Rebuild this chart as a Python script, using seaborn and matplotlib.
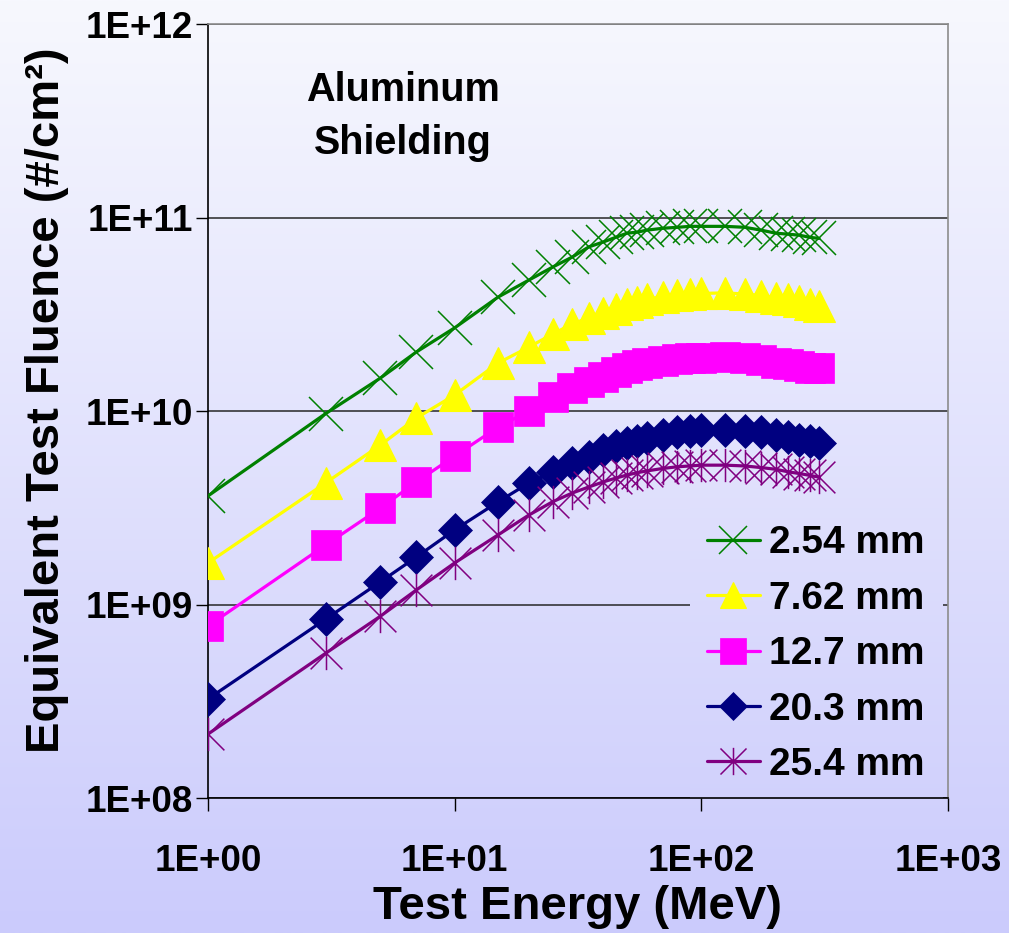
import numpy as np
import matplotlib
matplotlib.use("Agg")
import matplotlib.pyplot as plt
from matplotlib.path import Path
from matplotlib.ticker import LogLocator, FuncFormatter, NullLocator
import seaborn as sns

# Proton test energy (MeV)
energy_mev = [1, 3, 5, 7, 10, 15, 20, 25, 30, 35, 40, 45, 50, 55, 60,
              70, 80, 90, 100, 125, 150, 175, 200, 225, 250, 275, 300]

# Aluminum shield thickness for each curve
thickness_labels = ["2.54 mm", "7.62 mm", "12.7 mm", "20.3 mm", "25.4 mm"]

# Equivalent test fluence (#/cm^2) per shield thickness
fluence_2p54 = [3.64e9, 9.7e9, 1.48e10, 2.02e10, 2.69e10, 3.88e10, 4.75e10, 5.55e10,
                6.25e10, 7.05e10, 7.47e10, 7.9e10, 8.3e10, 8.4e10, 8.6e10, 8.8e10,
                8.9e10, 9.0e10, 9.0e10, 9.0e10, 8.9e10, 8.6e10, 8.3e10, 8.2e10,
                8.1e10, 7.9e10, 7.8e10]
fluence_7p62 = [1.64e9, 4.25e9, 6.67e9, 9.2e9, 1.21e10, 1.77e10, 2.14e10, 2.5e10,
                2.82e10, 3.03e10, 3.21e10, 3.37e10, 3.57e10, 3.66e10, 3.8e10, 3.88e10,
                3.98e10, 4.02e10, 4.05e10, 4.08e10, 4.02e10, 3.95e10, 3.84e10, 3.78e10,
                3.7e10, 3.57e10, 3.49e10]
fluence_12p7 = [7.74e8, 2.03e9, 3.15e9, 4.3e9, 5.85e9, 8.26e9, 1.0e10, 1.18e10,
                1.31e10, 1.41e10, 1.5e10, 1.59e10, 1.67e10, 1.72e10, 1.76e10, 1.81e10,
                1.85e10, 1.88e10, 1.88e10, 1.9e10, 1.87e10, 1.83e10, 1.78e10, 1.74e10,
                1.7e10, 1.67e10, 1.66e10]
fluence_20p3 = [3.25e8, 8.4e8, 1.31e9, 1.76e9, 2.43e9, 3.39e9, 4.25e9, 4.84e9,
                5.38e9, 5.78e9, 6.28e9, 6.6e9, 6.84e9, 7.0e9, 7.25e9, 7.5e9,
                7.75e9, 7.85e9, 8.0e9, 8.0e9, 7.9e9, 7.75e9, 7.55e9, 7.3e9,
                7.1e9, 7.0e9, 6.85e9]
fluence_25p4 = [2.14e8, 5.6e8, 8.7e8, 1.19e9, 1.64e9, 2.29e9, 2.9e9, 3.4e9,
                3.77e9, 4.05e9, 4.3e9, 4.5e9, 4.67e9, 4.8e9, 4.9e9, 5.05e9,
                5.15e9, 5.2e9, 5.25e9, 5.25e9, 5.2e9, 5.1e9, 5.0e9, 4.85e9,
                4.75e9, 4.65e9, 4.55e9]

series = [fluence_2p54, fluence_7p62, fluence_12p7, fluence_20p3, fluence_25p4]
colors = ["#008000", "#FFFF00", "#FF00FF", "#000080", "#800080"]

# Asterisk marker: an X crossed by a vertical stroke
asterisk = Path([(-1, -1), (1, 1), (-1, 1), (1, -1), (0, -1.05), (0, 1.05)],
                [Path.MOVETO, Path.LINETO, Path.MOVETO, Path.LINETO,
                 Path.MOVETO, Path.LINETO])
marker_styles = [
    dict(marker="x", markersize=24, markerfacecolor="none", markeredgewidth=1.1),
    dict(marker="^", markersize=23, markeredgewidth=0.8),
    dict(marker="s", markersize=22, markeredgewidth=0.5),
    dict(marker="D", markersize=17, markeredgewidth=0.5),
    dict(marker=asterisk, markersize=24, markerfacecolor="none", markeredgewidth=1.1),
]

sns.set_theme(style="white")
plt.rcParams["font.family"] = ["Liberation Sans", "DejaVu Sans"]
plt.rcParams["font.weight"] = "bold"
for key in ("text.color", "axes.labelcolor", "xtick.color", "ytick.color"):
    plt.rcParams[key] = "black"

fig = plt.figure(figsize=(10.09, 9.33), dpi=100)

# Lavender vertical gradient behind the whole figure
top_rgb = np.array([247, 248, 254]) / 255.0
bot_rgb = np.array([203, 203, 252]) / 255.0


def gradient_rows(f_top, f_bottom, n=512):
    """Background colours for figure heights from f_top down to f_bottom."""
    s = np.linspace(1.0 - f_top, 1.0 - f_bottom, n)[:, None]
    return (top_rgb + s * (bot_rgb - top_rgb))[:, None, :]


bg = fig.add_axes([0, 0, 1, 1], zorder=-10)
bg.imshow(gradient_rows(1.0, 0.0), aspect="auto", extent=[0, 1, 0, 1], origin="upper")
bg.axis("off")

ax = fig.add_axes([0.20614, 0.14469, 0.73340, 0.82958])
ax.set_facecolor("none")

for vals, lab, col, mst in zip(series, thickness_labels, colors, marker_styles):
    kw = dict(mst)
    kw.setdefault("markerfacecolor", col)
    sns.lineplot(x=energy_mev, y=vals, ax=ax, color=col, linewidth=2.3,
                 markeredgecolor=col, label=lab, errorbar=None, zorder=3, **kw)

ax.set_xscale("log")
ax.set_yscale("log")
ax.set_xlim(1, 1000)
ax.set_ylim(1e8, 1e12)
ax.set_autoscale_on(False)

fmt = FuncFormatter(lambda v, _: f"1E+{int(round(np.log10(v))):02d}")
for axis in (ax.xaxis, ax.yaxis):
    axis.set_major_locator(LogLocator(base=10, subs=(1.0,)))
    axis.set_minor_locator(NullLocator())
    axis.set_major_formatter(fmt)

ax.tick_params(axis="both", which="major", direction="out", length=9, width=1,
               color="black", labelsize=26.5, bottom=True, left=True)
ax.tick_params(axis="x", pad=24)
ax.tick_params(axis="y", pad=2)
for lbl in ax.get_xticklabels() + ax.get_yticklabels():
    lbl.set_fontweight("bold")

ax.yaxis.grid(True, color="#262626", linewidth=1.1)
ax.xaxis.grid(False)
ax.set_axisbelow(True)

for side in ("left", "bottom"):
    ax.spines[side].set_color("black")
    ax.spines[side].set_linewidth(1.2)
for side in ("top", "right"):
    ax.spines[side].set_color("#8c8c8c")
    ax.spines[side].set_linewidth(1.2)

ax.set_xlabel("Test Energy (MeV)", fontsize=34, fontweight="bold")
ax.xaxis.set_label_coords(0.5, -0.113)
ax.set_ylabel("Equivalent Test Fluence (#/cm²)", fontsize=34, fontweight="bold")
ax.yaxis.set_label_coords(-0.188, 0.514)

ax.text(0.2635, 0.881, "Aluminum\nShielding", transform=ax.transAxes,
        ha="center", va="center", fontsize=28.5, fontweight="bold",
        linespacing=1.5)

leg = ax.legend(loc="upper left", bbox_to_anchor=(0.651, 0.375), frameon=False,
                prop={"weight": "bold", "size": 28}, handlelength=1.35,
                handletextpad=0.25, labelspacing=0.5, borderpad=0.45,
                borderaxespad=0, markerscale=0.82)
leg.set_zorder(5)

# Opaque legend box painted with the same gradient, so gridlines stop at it
fig.canvas.draw()
bb = leg.get_window_extent().transformed(fig.transFigure.inverted())
ax.imshow(gradient_rows(bb.y1, bb.y0), aspect="auto", origin="upper",
          extent=[bb.x0, bb.x1, bb.y0, bb.y1], transform=fig.transFigure,
          zorder=1, interpolation="bilinear")
ax.set_xlim(1, 1000)
ax.set_ylim(1e8, 1e12)

fig.savefig("out.png", dpi=100)
